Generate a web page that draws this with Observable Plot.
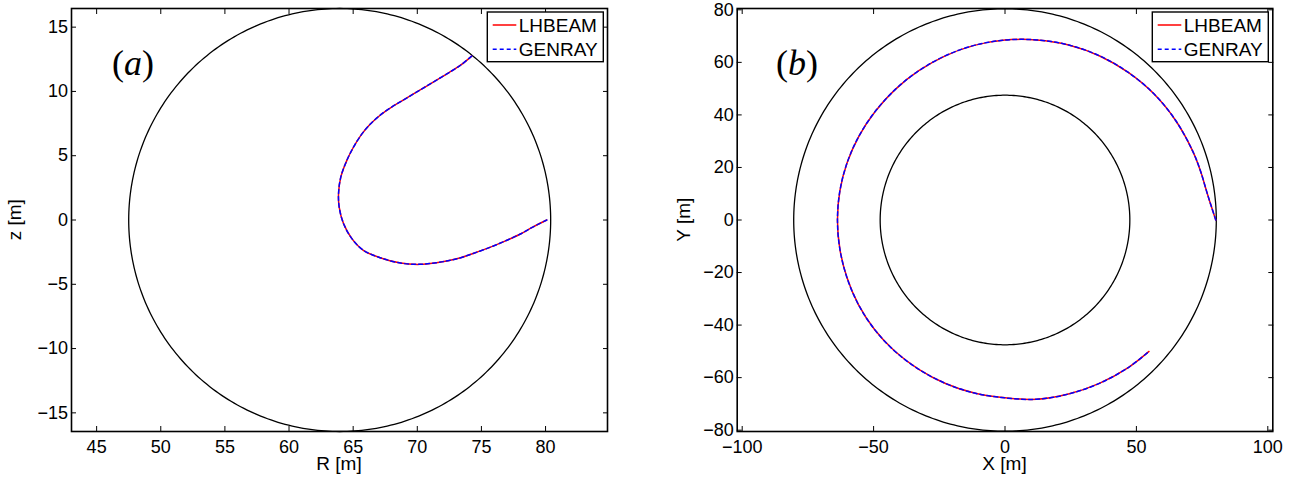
<!DOCTYPE html>
<html>
<head>
<meta charset="utf-8">
<script src="https://cdn.jsdelivr.net/npm/d3@7"></script>
<script src="https://cdn.jsdelivr.net/npm/@observablehq/plot@0.6"></script>
<style>
  html, body { margin: 0; padding: 0; background: #fff; overflow: hidden; }
  #wrap { position: relative; width: 1302px; height: 477px; font-family: "Liberation Sans", Arial, Helvetica, sans-serif; color: #000; }
  #wrap .panel { position: absolute; top: 0; }
  #overlay { position: absolute; left: 0; top: 0; pointer-events: none; }
</style>
</head>
<body>
<div id="wrap">
  <div class="panel" id="pa" style="left:0px"></div>
  <div class="panel" id="pb" style="left:651px"></div>
</div>
<script>
// ---------- Data ----------
const seriesNames = ["LHBEAM", "GENRAY"];
const seriesColors = ["#ff0000", "#0000ff"];

// Panel (a): poloidal projection, R [m] vs z [m]
const lhbeamA_R = [80.1, 79.0, 78.0, 76.7, 75.4, 74.3, 73.3, 72.4, 71.5, 70.2, 68.7, 67.1, 65.8, 64.9, 64.25, 63.91, 63.86, 64.04, 64.5, 65.0, 65.6, 66.3, 67.1, 68.0, 68.9, 69.8, 70.7, 71.6, 72.5, 73.4, 74.24];
const lhbeamA_z = [0.0, -0.55, -1.11, -1.7, -2.23, -2.62, -2.96, -3.17, -3.32, -3.45, -3.35, -2.93, -2.36, -1.45, -0.28, 1.01, 2.06, 3.35, 4.62, 5.62, 6.58, 7.42, 8.15, 8.78, 9.32, 9.86, 10.4, 10.94, 11.48, 12.06, 12.75];
const genrayA_R = [80.1, 79.0, 78.0, 76.7, 75.4, 74.3, 73.3, 72.4, 71.5, 70.2, 68.7, 67.1, 65.8, 64.9, 64.25, 63.91, 63.86, 64.04, 64.5, 65.0, 65.6, 66.3, 67.1, 68.0, 68.9, 69.8, 70.7, 71.6, 72.5, 73.4, 74.24];
const genrayA_z = [0.0, -0.55, -1.11, -1.7, -2.23, -2.62, -2.96, -3.17, -3.32, -3.45, -3.35, -2.93, -2.36, -1.45, -0.28, 1.01, 2.06, 3.35, 4.62, 5.62, 6.58, 7.42, 8.15, 8.78, 9.32, 9.86, 10.4, 10.94, 11.48, 12.06, 12.75];

// Panel (b): top view, X [m] vs Y [m]
const lhbeamB_X = [80.2, 78.41, 76.75, 74.42, 71.51, 65.13, 56.92, 47.05, 36.05, 24.25, 12.09, 0.0, -11.72, -22.74, -32.8, -41.72, -49.33, -55.51, -60.05, -62.83, -63.75, -62.83, -60.14, -55.77, -49.64, -41.91, -32.8, -22.64, -11.62, 0.0, 12.03, 24.11, 35.9, 47.05, 54.79];
const lhbeamB_Y = [0.0, 5.48, 10.79, 18.56, 26.03, 37.6, 47.76, 56.07, 62.44, 66.62, 68.54, 68.5, 66.47, 62.49, 56.81, 49.72, 41.4, 32.05, 21.86, 11.08, 0.0, -11.08, -21.89, -32.2, -41.65, -49.95, -56.81, -62.21, -65.88, -67.7, -68.25, -66.25, -62.18, -56.07, -50.03];
const genrayB_X = [80.2, 78.41, 76.75, 74.42, 71.51, 65.13, 56.92, 47.05, 36.05, 24.25, 12.09, 0.0, -11.72, -22.74, -32.8, -41.72, -49.33, -55.51, -60.05, -62.83, -63.75, -62.83, -60.14, -55.77, -49.64, -41.91, -32.8, -22.64, -11.62, 0.0, 12.03, 24.11, 35.9, 47.05, 54.79];
const genrayB_Y = [0.0, 5.48, 10.79, 18.56, 26.03, 37.6, 47.76, 56.07, 62.44, 66.62, 68.54, 68.5, 66.47, 62.49, 56.81, 49.72, 41.4, 32.05, 21.86, 11.08, 0.0, -11.08, -21.89, -32.2, -41.65, -49.95, -56.81, -62.21, -65.88, -67.7, -68.25, -66.25, -62.18, -56.07, -50.03];

// Plasma boundaries
const plasmaCenterR = 63.95;   // panel (a) circle centre (R)
const plasmaMinorRadius = 16.45;
const outerRadius = 80.4;      // panel (b) outer circle
const innerRadius = 47.5;      // panel (b) inner circle

// Axis ticks
const ticksA_x = [45, 50, 55, 60, 65, 70, 75, 80];
const ticksA_y = [-15, -10, -5, 0, 5, 10, 15];
const ticksB_x = [-100, -50, 0, 50, 100];
const ticksB_y = [-80, -60, -40, -20, 0, 20, 40, 60, 80];

// ---------- Helpers ----------
function circle(cx, cy, r) {
  return d3.range(0, 361, 1).map(d => ({x: cx + r * Math.cos(d * Math.PI / 180), y: cy + r * Math.sin(d * Math.PI / 180)}));
}
function zipXY(xs, ys) { return xs.map((x, i) => ({x, y: ys[i]})); }
const fmt = d => d3.format("")(d).replace("-", "\u2212");

function makePanel({width, height, marginLeft, marginRight, marginTop, marginBottom, xDomain, yDomain, xTicks, yTicks, circles, rays}) {
  const marks = [];
  for (const c of circles) marks.push(Plot.line(c, {x: "x", y: "y", stroke: "#000", strokeWidth: 1.3}));
  rays.forEach((r, i) => {
    marks.push(Plot.line(r, {
      x: "x", y: "y", stroke: seriesColors[i], strokeWidth: 1.5, curve: "catmull-rom",
      strokeDasharray: i === 1 ? "4,3" : null
    }));
  });
  marks.push(Plot.frame({stroke: "#000", strokeWidth: 1.6}));
  marks.push(Plot.axisX({ticks: xTicks, anchor: "bottom", tickSize: -5, tickPadding: 14, label: null, tickFormat: fmt}));
  marks.push(Plot.axisX({ticks: xTicks, anchor: "top", tickSize: -5, label: null, tickFormat: () => ""}));
  marks.push(Plot.axisY({ticks: yTicks, anchor: "left", tickSize: -5, tickPadding: 8.5, label: null, tickFormat: fmt}));
  marks.push(Plot.axisY({ticks: yTicks, anchor: "right", tickSize: -5, label: null, tickFormat: () => ""}));
  return Plot.plot({
    width, height, marginLeft, marginRight, marginTop, marginBottom,
    x: {domain: xDomain},
    y: {domain: yDomain},
    style: {fontFamily: '"Liberation Sans", Arial, sans-serif', fontSize: "18px", color: "#000", background: "transparent", overflow: "visible"},
    marks
  });
}

// ---------- Panel (a) ----------
const plotA = makePanel({
  width: 651, height: 477, marginLeft: 71, marginRight: 44, marginTop: 8, marginBottom: 46,
  xDomain: [43.04, 84.83], yDomain: [-16.45, 16.45],
  xTicks: ticksA_x, yTicks: ticksA_y,
  circles: [circle(plasmaCenterR, 0, plasmaMinorRadius)],
  rays: [zipXY(lhbeamA_R, lhbeamA_z), zipXY(genrayA_R, genrayA_z)]
});
document.getElementById("pa").appendChild(plotA);

// ---------- Panel (b) ----------
const plotB = makePanel({
  width: 651, height: 477, marginLeft: 85.7, marginRight: 29.7, marginTop: 8, marginBottom: 46,
  xDomain: [-101.9, 101.9], yDomain: [-80.5, 80.5],
  xTicks: ticksB_x, yTicks: ticksB_y,
  circles: [circle(0, 0, outerRadius), circle(0, 0, innerRadius)],
  rays: [zipXY(lhbeamB_X, lhbeamB_Y), zipXY(genrayB_X, genrayB_Y)]
});
document.getElementById("pb").appendChild(plotB);

// ---------- Overlay: axis labels, panel tags, legends ----------
const ov = d3.select("#wrap").append("svg").attr("id", "overlay").attr("width", 1302).attr("height", 477)
  .style("font-family", '"Liberation Sans", Arial, sans-serif');

const axisLabels = [
  {text: "R [m]", x: 339, y: 470, rot: 0},
  {text: "z [m]", x: 21, y: 219.7, rot: -90},
  {text: "X [m]", x: 1004.5, y: 470, rot: 0},
  {text: "Y [m]", x: 690, y: 219.7, rot: -90}
];
for (const l of axisLabels) {
  ov.append("text").attr("transform", `translate(${l.x},${l.y}) rotate(${l.rot})`)
    .attr("text-anchor", "middle").attr("font-size", 19).attr("fill", "#000").text(l.text);
}

const tags = [{letter: "a", x: 112, y: 75}, {letter: "b", x: 776, y: 75}];
for (const t of tags) {
  const tx = ov.append("text").attr("x", t.x).attr("y", t.y)
    .attr("font-family", '"Liberation Serif", "DejaVu Serif", serif').attr("font-size", 36).attr("fill", "#000");
  tx.append("tspan").text("(");
  tx.append("tspan").attr("font-style", "italic").text(t.letter);
  tx.append("tspan").text(")");
}

for (const lx of [487.3, 1152.3]) {
  const g = ov.append("g").attr("transform", `translate(${lx},12)`);
  g.append("rect").attr("x", 0).attr("y", 0).attr("width", 116).attr("height", 49.7)
    .attr("fill", "#fff").attr("stroke", "#000").attr("stroke-width", 1.4);
  seriesNames.forEach((name, i) => {
    const yy = i === 0 ? 13 : 37.3;
    g.append("line").attr("x1", 5.4).attr("x2", 29).attr("y1", yy).attr("y2", yy)
      .attr("stroke", seriesColors[i]).attr("stroke-width", 1.5)
      .attr("stroke-dasharray", i === 1 ? "4,3" : null);
    g.append("text").attr("x", 31.5).attr("y", i === 0 ? 20.3 : 43.7)
      .attr("font-size", 19).attr("fill", "#000").text(name);
  });
}
</script>
</body>
</html>
